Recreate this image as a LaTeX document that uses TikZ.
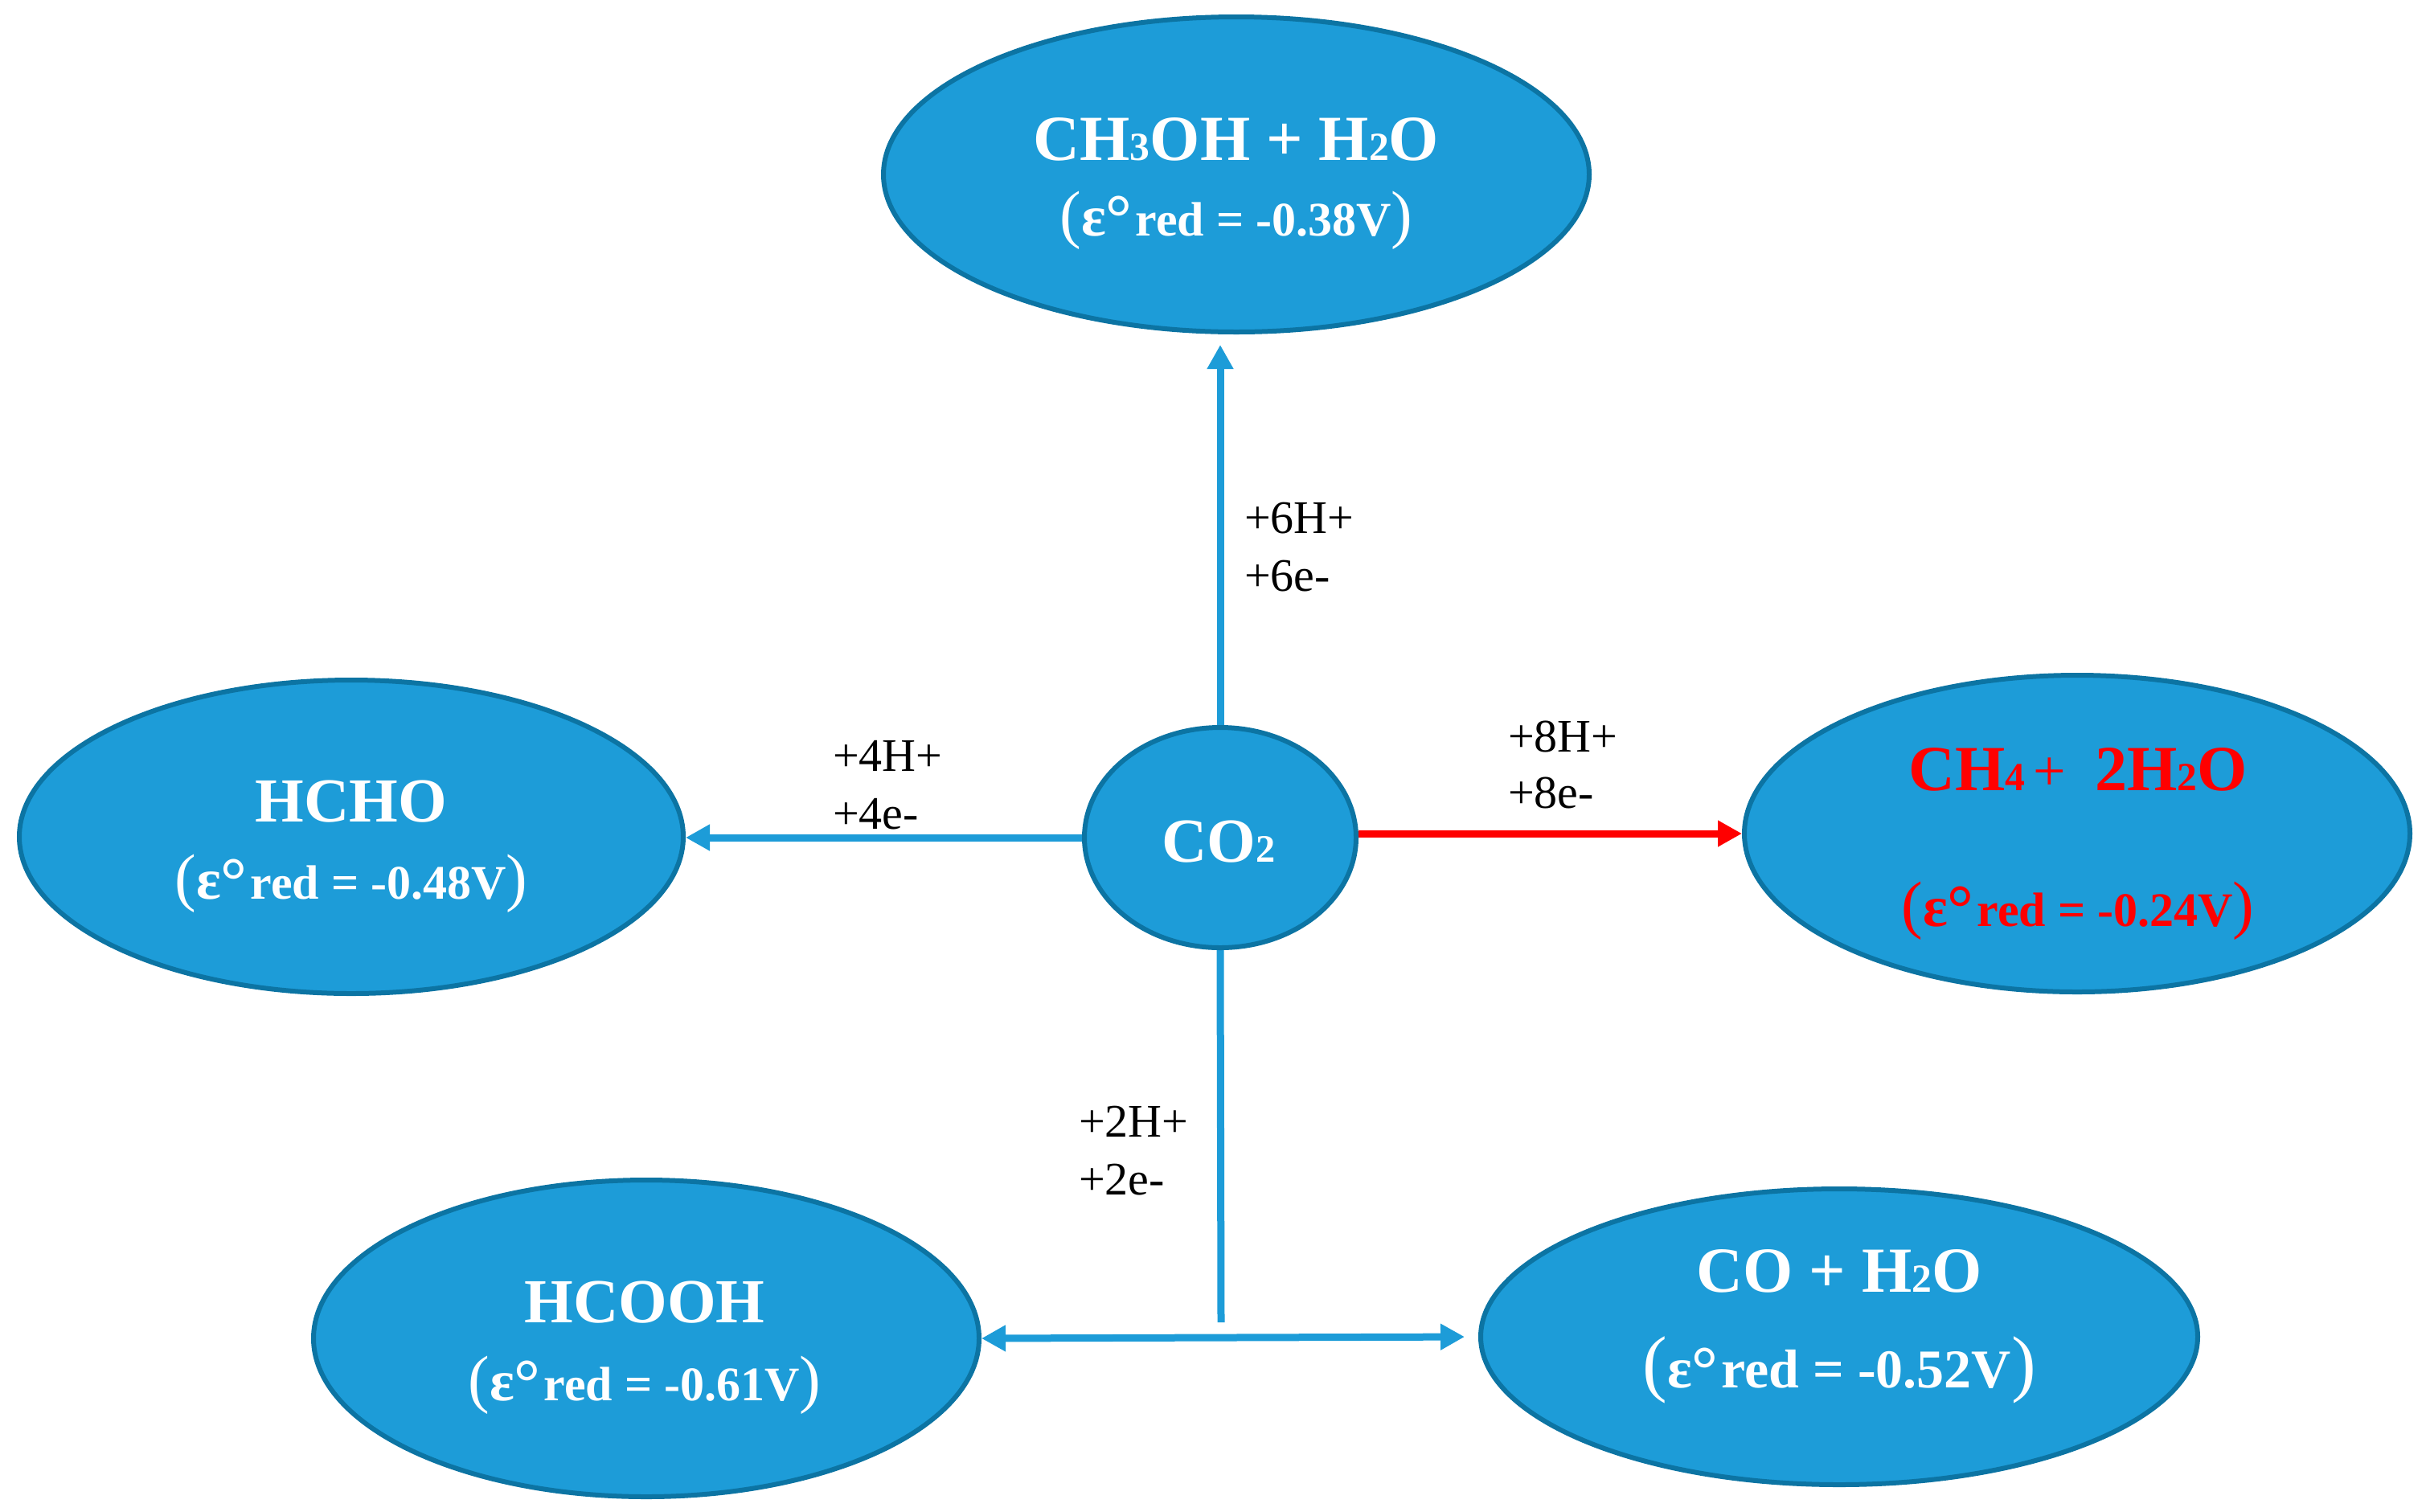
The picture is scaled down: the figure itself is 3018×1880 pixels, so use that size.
\documentclass[tikz,border=0pt]{standalone}
\usepackage{fontspec}
\setmainfont{Liberation Serif}
\usepackage{graphicx}
\usetikzlibrary{arrows.meta,shapes.geometric}
\definecolor{ovfill}{RGB}{29,156,216}
\definecolor{ovdraw}{RGB}{12,116,163}
\definecolor{arblue}{RGB}{29,156,216}
\newcommand\sm[1]{\scalebox{0.62}{#1}}
\newcommand\fs[1]{\fontsize{#1}{#1}\selectfont}
\newcommand\potline[2]{{\mdseries\fs{#1}(}{\fs{72}ε}\raisebox{-5pt}{\fs{82}°}\kern4pt red = #2V{\mdseries\fs{#1})}}
\pgfdeclarelayer{bg}
\pgfsetlayers{bg,main}
\begin{document}
\begin{tikzpicture}[x=1pt,y=-1pt,
  ov/.style={ellipse, fill=ovfill, draw=ovdraw, line width=6pt, inner sep=0pt},
  tw/.style={anchor=base, text=white, inner sep=0pt, font=\bfseries},
  lab/.style={anchor=base west, inner sep=0pt, text=black, font=\fs{58}},
  conn/.style={arblue, line width=9pt, -{Triangle[length=30pt,width=31pt]}},
  plain/.style={arblue, line width=9pt}]
\useasboundingbox (0,0) rectangle (3018,1880);
% ellipses
\node[ov, minimum width=878, minimum height=392] (meoh) at (1538,217) {};
\node[ov, minimum width=826, minimum height=390] (hcho) at (437,1041) {};
\node[ov, minimum width=338, minimum height=274] (co2) at (1518,1042) {};
\node[ov, minimum width=828, minimum height=394] (ch4) at (2584,1037) {};
\node[ov, minimum width=828, minimum height=394] (hcooh) at (804,1665) {};
\node[ov, minimum width=892, minimum height=368] (co) at (2288,1663) {};
% texts
\node[tw] (meohA) at (1538,199) {\fs{80}CH\sm{3}OH + H\sm{2}O};
\node[tw] (meohB) at (1538,293) {\fs{60}\potline{80}{-0.38}};
\node[tw] (hchoA) at (437,1022) {\fs{78}HCHO};
\node[tw] (hchoB) at (437,1118) {\fs{60}\potline{80}{-0.48}};
\node[tw] (co2A) at (1516,1072) {\fs{78}CO\sm{2}};
\node[tw, text=red] (ch4A) at (2585,983) {\fs{80}CH\sm{4}\kern10pt{\mdseries\scalebox{0.9}{+}}\hspace{0.45em}2H\sm{2}O};
\node[tw, text=red] (ch4B) at (2585,1152) {\fs{60}\potline{80}{-0.24}};
\node[tw] (hcoohA) at (802,1645) {\fs{78}HCOOH};
\node[tw] (hcoohB) at (802,1742) {\fs{60}\potline{80}{-0.61}};
\node[tw] (coA) at (2288,1607) {\fs{80}CO + H\sm{2}O};
\node[tw] (coB) at (2288,1726) {\fs{68}\potline{92}{-0.52}};
% labels
\node[lab] (l6a) at (1548,663) {+6H+};
\node[lab] (l6b) at (1548,735) {+6e-};
\node[lab] (l8a) at (1876,935) {+8H+};
\node[lab] (l8b) at (1876,1005) {+8e-};
\node[lab] (l4a) at (1036,959) {+4H+};
\node[lab] (l4b) at (1036,1031) {+4e-};
\node[lab] (l2a) at (1342,1414) {+2H+};
\node[lab] (l2b) at (1342,1486) {+2e-};
\coordinate (j) at (1519,1645);
% connectors
\begin{pgfonlayer}{bg}
\draw[conn, shorten >=13pt] (co2.north) -- (co2.north |- meoh.south);
\draw[conn] (co2.west) -- (co2.west -| hcho.east);
\draw[conn, red] (ch4.west -| co2.east) -- (ch4.west);
\draw[plain] (co2.south) -- (j);
\draw[plain, {Triangle[length=30pt,width=31pt]}-{Triangle[length=30pt,width=31pt]}, shorten >=17pt] (hcooh.east) -- (co.west);
\end{pgfonlayer}
\end{tikzpicture}
\end{document}
